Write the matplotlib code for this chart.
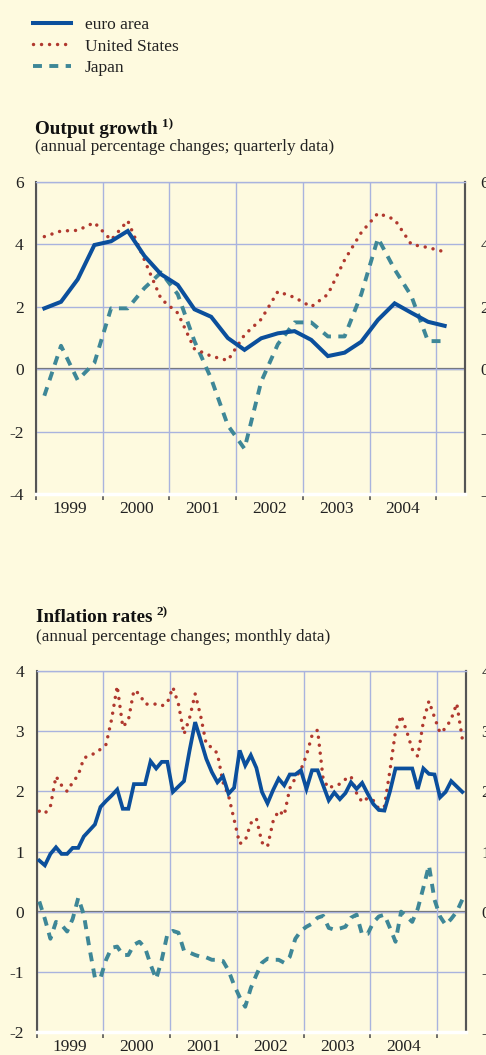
import matplotlib
matplotlib.use('Agg')
import matplotlib.pyplot as plt
from matplotlib.lines import Line2D
import pandas as pd

plt.rcParams['font.family'] = ['Liberation Serif', 'DejaVu Serif']
plt.rcParams['axes.unicode_minus'] = False

# ---------------- data ----------------
quarters = pd.period_range('1999Q1', '2005Q1', freq='Q')
months = pd.period_range('1999-01', '2005-05', freq='M')

gdp_euro = [1.95, 2.16, 2.88, 3.98, 4.10, 4.43, 3.63, 3.04, 2.70, 1.92, 1.68, 1.00,
            0.62, 0.99, 1.15, 1.22, 0.94, 0.42, 0.53, 0.88, 1.58, 2.11, 1.81, 1.52, 1.39]
gdp_us = [4.25, 4.43, 4.45, 4.70, 4.14, 4.76, 3.50, 2.25, 1.80, 0.65, 0.42, 0.28,
          1.10, 1.60, 2.49, 2.30, 2.00, 2.40, 3.50, 4.38, 5.00, 4.80, 4.00, 3.90, 3.76]
gdp_japan = [-0.85, 0.75, -0.35, 0.20, 1.95, 1.95, 2.60, 3.10, 2.40, 0.90, -0.30, -1.80,
             -2.55, -0.40, 0.80, 1.50, 1.50, 1.05, 1.05, 2.40, 4.20, 3.20, 2.35, 0.90, 0.90]

infl_euro = [0.85, 0.77, 0.96, 1.07, 0.96, 0.96, 1.06, 1.06, 1.25, 1.35, 1.45, 1.74,
             1.84, 1.93, 2.03, 1.71, 1.71, 2.12, 2.12, 2.12, 2.50, 2.38, 2.49, 2.49,
             1.99, 2.08, 2.17, 2.68, 3.15, 2.85, 2.54, 2.32, 2.15, 2.25, 1.96, 2.06,
             2.68, 2.43, 2.60, 2.39, 1.99, 1.80, 2.02, 2.21, 2.10, 2.28, 2.28, 2.35,
             2.04, 2.35, 2.35, 2.10, 1.85, 1.98, 1.87, 1.97, 2.15, 2.04, 2.14, 1.96,
             1.79, 1.69, 1.68, 2.00, 2.38, 2.38, 2.38, 2.38, 2.04, 2.38, 2.29, 2.28,
             1.90, 1.99, 2.17, 2.08, 1.99]
infl_us = [1.67, 1.63, 1.75, 2.25, 2.10, 2.00, 2.15, 2.27, 2.55, 2.60, 2.63, 2.70,
           2.78, 3.20, 3.75, 3.07, 3.18, 3.68, 3.62, 3.45, 3.45, 3.45, 3.42, 3.47,
           3.73, 3.45, 2.95, 3.22, 3.62, 3.25, 2.78, 2.73, 2.63, 2.15, 1.93, 1.53,
           1.13, 1.18, 1.47, 1.55, 1.15, 1.08, 1.50, 1.68, 1.60, 2.05, 2.22, 2.36,
           2.60, 2.93, 3.02, 2.20, 2.05, 2.10, 2.12, 2.20, 2.25, 1.97, 1.82, 1.89,
           1.85, 1.71, 1.75, 2.35, 3.00, 3.26, 3.00, 2.70, 2.58, 3.16, 3.50, 3.23,
           2.97, 3.05, 3.20, 3.46, 2.87]
infl_japan = [0.17, -0.12, -0.45, -0.17, -0.22, -0.33, -0.12, 0.23, -0.05, -0.60, -1.10, -1.10,
              -0.80, -0.60, -0.58, -0.72, -0.72, -0.55, -0.50, -0.60, -0.88, -1.12, -0.80, -0.38,
              -0.32, -0.35, -0.65, -0.68, -0.72, -0.75, -0.76, -0.80, -0.80, -0.82, -0.98, -1.22,
              -1.42, -1.58, -1.27, -1.05, -0.85, -0.78, -0.80, -0.80, -0.85, -0.75, -0.45, -0.32,
              -0.25, -0.20, -0.10, -0.07, -0.27, -0.30, -0.28, -0.25, -0.10, -0.05, -0.38, -0.37,
              -0.18, -0.08, -0.05, -0.27, -0.50, 0.00, -0.08, -0.17, 0.05, 0.40, 0.77, 0.20,
              -0.08, -0.22, -0.12, 0.00, 0.20]

year_labels = ['1999', '2000', '2001', '2002', '2003', '2004']
series_labels = ['euro area', 'United States', 'Japan']
gdp_yticks = [-4, -2, 0, 2, 4, 6]
infl_yticks = [-2, -1, 0, 1, 2, 3, 4]

# ---------------- style ----------------
W, H = 486, 1055
BG = '#FEFADF'
GRID = '#A9B3DE'
AXC = '#555555'
C_EURO = '#0B4F9C'
C_US = '#B0382E'
C_JP = '#3E8797'
FS = 12.5

fig = plt.figure(figsize=(W / 100, H / 100), dpi=100)
fig.patch.set_facecolor(BG)


def px_box(l, t, r, b):
    return [l / W, 1 - b / H, (r - l) / W, (b - t) / H]


def qx(p):
    return p.year + (p.quarter - 0.5) / 4


def mx(p):
    return p.year + (p.month - 0.5) / 12


def style(ax, ylim, yticks):
    ax.set_facecolor(BG)
    ax.set_xlim(1999, 2005.43)
    ax.set_ylim(*ylim)
    ax.set_yticks(yticks)
    ax.set_yticklabels([str(v) for v in yticks])
    ax.set_xticks(range(1999, 2006))
    ax.set_xticklabels([''] * 7)
    ax.set_xticks([int(y) + 0.5 for y in year_labels], minor=True)
    ax.set_xticklabels(year_labels, minor=True)
    ax.tick_params(axis='x', which='major', length=4, width=1.2, color=AXC, direction='out')
    ax.tick_params(axis='x', which='minor', length=0, labelsize=FS, pad=5, labelcolor='#222222')
    ax.tick_params(axis='y', length=0, labelsize=FS, pad=9, labelcolor='#222222')
    ax.grid(True, which='major', color=GRID, lw=1.0, zorder=0)
    ax.axhline(0, color='#6a6a6a', lw=1.6, zorder=1)
    for s in ('left', 'right'):
        ax.spines[s].set_color(AXC)
        ax.spines[s].set_linewidth(1.5)
    ax.spines['top'].set_color(GRID)
    ax.spines['top'].set_linewidth(1.0)
    ax.spines['bottom'].set_color('white')
    ax.spines['bottom'].set_linewidth(2.5)
    sec = ax.secondary_yaxis('right')
    sec.set_yticks(yticks)
    sec.set_yticklabels([str(v) for v in yticks])
    sec.tick_params(axis='y', length=0, labelsize=FS, pad=11, labelcolor='#222222')
    sec.spines['right'].set_color(AXC)
    sec.spines['right'].set_linewidth(1.5)


def draw(ax, x, euro, us, jp, lw_e=2.9):
    ax.plot(x, jp, color=C_JP, lw=2.8, linestyle=(0, (2.3, 1.9)), dash_capstyle='butt', zorder=3)
    ax.plot(x, us, color=C_US, lw=2.5, linestyle=(0, (0.01, 2.3)), dash_capstyle='round', zorder=4)
    ax.plot(x, euro, color=C_EURO, lw=lw_e, solid_joinstyle='miter', zorder=5)


ax1 = fig.add_axes(px_box(36, 182, 465, 494))
style(ax1, (-4, 6), gdp_yticks)
draw(ax1, [qx(p) for p in quarters], gdp_euro, gdp_us, gdp_japan)

ax2 = fig.add_axes(px_box(36.5, 671, 466, 1032))
style(ax2, (-2, 4), infl_yticks)
draw(ax2, [mx(p) for p in months], infl_euro, infl_us, infl_japan, lw_e=2.7)

# ---------------- titles ----------------
def title(x, y, main, sup, sub, sub_y):
    t = fig.text(x / W, 1 - y / H, main, fontsize=13.8, fontweight='bold', va='baseline', color='#111111')
    fig.canvas.draw()
    bb = t.get_window_extent()
    fig.text((bb.x1 + 4) / W, 1 - (y - 7) / H, sup, fontsize=9.5, fontweight='bold', va='baseline', color='#111111')
    fig.text(x / W, 1 - sub_y / H, sub, fontsize=12.3, va='baseline', color='#222222')


title(35, 134, 'Output growth', '1)', '(annual percentage changes; quarterly data)', 151)
title(36, 622, 'Inflation rates', '2)', '(annual percentage changes; monthly data)', 641)

# ---------------- legend ----------------
handles = [
    Line2D([], [], color=C_EURO, lw=2.9),
    Line2D([], [], color=C_US, lw=2.5, linestyle=(0, (0.01, 2.3)), dash_capstyle='round'),
    Line2D([], [], color=C_JP, lw=2.8, linestyle=(0, (2.3, 1.9)), dash_capstyle='butt'),
]
fig.legend(handles, series_labels, loc='upper left', bbox_to_anchor=(33 / W, 1 - 17 / H),
           frameon=False, fontsize=FS, handlelength=2.2, handletextpad=0.8,
           labelspacing=0.3, borderaxespad=0, borderpad=0, labelcolor='#222222')

fig.savefig('out.png', dpi=100, facecolor=BG)
